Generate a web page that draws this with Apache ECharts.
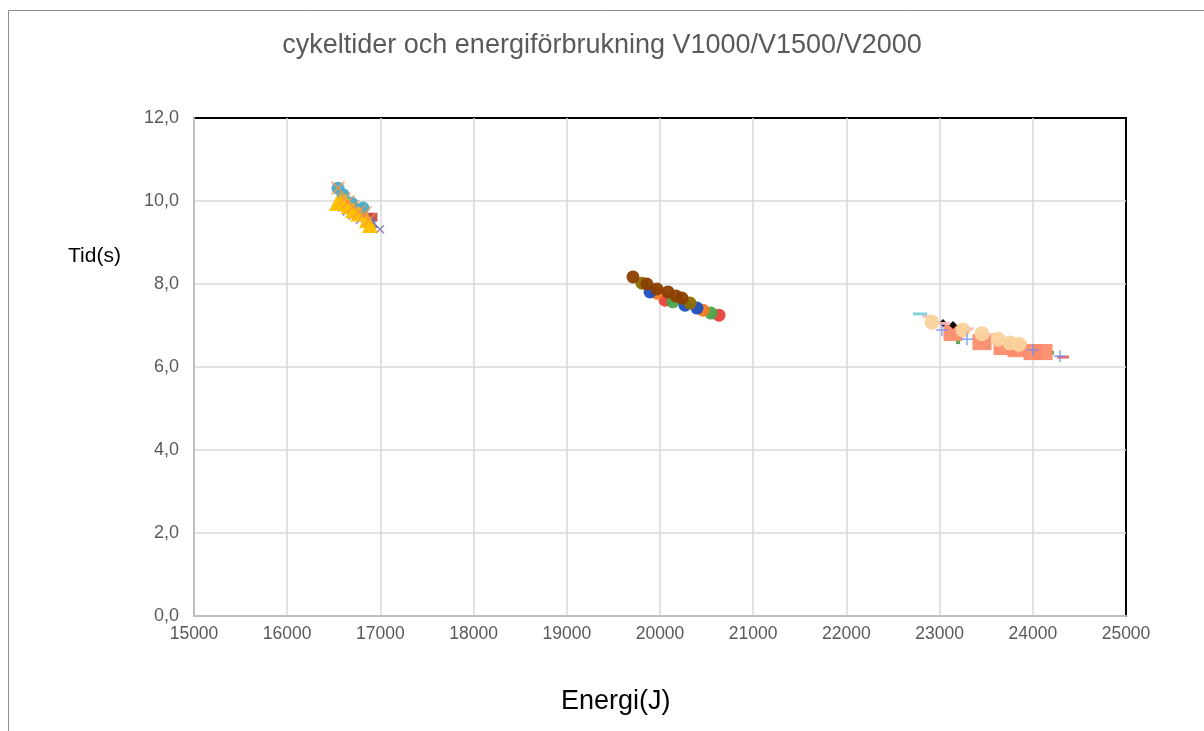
<!DOCTYPE html>
<html><head><meta charset="utf-8">
<script src="https://cdn.jsdelivr.net/npm/echarts@6/dist/echarts.min.js"></script>
<style>html,body{margin:0;padding:0;background:#fff}#c{width:1204px;height:731px}</style>
</head><body><div id="c"></div>
<script>
const title = 'cykeltider och energiförbrukning V1000/V1500/V2000';
const xName = 'Energi(J)';
const yName = 'Tid(s)';
const xTicks = [15000, 25000, 1000];
const yTicks = [0, 12, 2];

// V1000 cluster
const v1000Teal   = [[16545,10.31],[16600,10.15],[16690,9.95],[16813,9.83],[16760,9.78]];
const v1000Orange = [[16545,10.31],[16652,9.98],[16706,9.86],[16770,9.74],[16835,9.71],[16610,10.05],[16880,9.55]];
const v1000Yellow = [[16534,9.95],[16580,10.02],[16620,9.98],[16706,9.78],[16760,9.70],[16856,9.54],[16888,9.42],[16660,9.88]];
const v1000Red    = [[16588,9.86],[16920,9.61],[16870,9.60]];
const v1000Blue   = [[16920,9.47],[16900,9.52]];
const v1000Purple = [[16996,9.32],[16880,9.40],[16780,9.55],[16700,9.65],[16640,9.75]];
const v1000Green  = [[16720,9.92],[16800,9.80],[16850,9.40]];
// V1500 cluster
const v1500Brown  = [[19710,8.17],[19860,8.00],[19968,7.88],[20086,7.81],[20172,7.71],[20236,7.66]];
const v1500Olive  = [[19807,8.02],[20322,7.54]];
const v1500Blue   = [[19893,7.81],[20268,7.49],[20397,7.42]];
const v1500Orange = [[19968,7.78],[20461,7.37]];
const v1500Green  = [[20139,7.57],[20547,7.30]];
const v1500Red    = [[20054,7.61],[20633,7.25]];
// V2000 cluster
const v2000Salmon = [[23144,6.82],[23455,6.60],[23680,6.48],[23830,6.43],[24002,6.36],[24110,6.36]];
const v2000Peach  = [[22918,7.08],[23251,6.89],[23455,6.80],[23627,6.67],[23755,6.58],[23852,6.55]];
const v2000Black  = [[23036,7.06],[23144,7.01],[23294,6.89]];
const v2000Blue   = [[23025,6.89],[23294,6.67],[24002,6.41],[24292,6.26]];
const v2000Green  = [[23198,6.60],[23520,6.46],[23777,6.34],[24206,6.34]];
const v2000Cyan   = [[22790,7.28]];
const v2000Red    = [[24324,6.24]];
const v2000Pink   = [[22880,7.22],[23050,7.05],[23300,6.92],[23550,6.78],[23780,6.66]];

const X = 'path://M0,0L10,10M10,0L0,10';
const P = 'path://M5,0L5,10M0,5L10,5';
function sc(data, color, symbol, size, stroke, z){
  const s = {type:'scatter', data, symbol, symbolSize:size, z: z||2,
    itemStyle:{color, opacity:0.95}};
  if (stroke) s.itemStyle = {color:'none', borderColor:color, borderWidth:1.5};
  return s;
}
const series = [
  sc(v1000Purple,'#8064A2',X,8,true),
  sc(v1000Green,'#9BBB59',P,7,true),
  sc(v1000Teal,'#4BACC6','circle',13),
  sc(v1000Red,'#C0504D','rect',9),
  sc(v1000Blue,'#4F81BD','triangle',10),
  sc(v1000Yellow,'#FFC000','triangle',16),
  sc(v1000Orange,'#F79646',X,13,true,3),
  sc(v1500Red,'#E8403A','circle',13),
  sc(v1500Green,'#4CA84C','circle',13),
  sc(v1500Orange,'#F47B20','circle',13),
  sc(v1500Blue,'#1F4FBF','circle',13),
  sc(v1500Olive,'#8C6D00','circle',13),
  sc(v1500Brown,'#8B3F00','circle',13),
  sc(v2000Green,'#4CA84C','rect',4),
  sc(v2000Salmon,'#FA8C6C','rect',[19,16]),
  sc(v2000Black,'#000000','diamond',8),
  sc(v2000Pink,'#FFB8B8','rect',[12,3]),
  sc(v2000Peach,'#FAD39C','circle',15),
  sc(v2000Blue,'#6C8EEF',P,12,true,3),
  sc(v2000Cyan,'#7FD0D8','rect',[14,3]),
  sc(v2000Red,'#F06060','rect',[12,3])
];

const chart = echarts.init(document.getElementById('c'));
chart.setOption({
  animation:false,
  backgroundColor:'#fff',
  title:{text:title, left:'center', top:27, textStyle:{fontFamily:'Liberation Sans', fontSize:27, fontWeight:'normal', color:'#595959'}},
  graphic:[
    {type:'rect', shape:{x:8.5,y:10.5,width:1300,height:800}, style:{fill:'none', stroke:'#8c8c8c', lineWidth:1}, z:-1},
    {type:'text', left:68, top:246, style:{text:yName, font:'21px "Liberation Sans"', fill:'#000'}},
    {type:'text', left:561, top:688, style:{text:xName, font:'27px "Liberation Sans"', fill:'#000'}}
  ],
  grid:{left:194, right:78, top:118, bottom:115, show:true, borderColor:'#000', borderWidth:2, backgroundColor:'transparent'},
  xAxis:{type:'value', min:xTicks[0], max:xTicks[1], interval:xTicks[2],
    axisLine:{show:true, onZero:false, lineStyle:{color:'#BFBFBF', width:2}},
    axisTick:{show:false},
    splitLine:{show:true, showMaxLine:false, lineStyle:{color:'#D9D9D9', width:1.5}},
    axisLabel:{fontFamily:'Liberation Sans', fontSize:17.5, color:'#595959', margin:9, formatter:v=>String(v)}},
  yAxis:{type:'value', min:yTicks[0], max:yTicks[1], interval:yTicks[2],
    axisLine:{show:true, onZero:false, lineStyle:{color:'#BFBFBF', width:2}},
    axisTick:{show:false},
    splitLine:{show:true, showMaxLine:false, lineStyle:{color:'#D9D9D9', width:1.5}},
    axisLabel:{fontFamily:'Liberation Sans', fontSize:18, color:'#595959', margin:15,
      formatter:v=>v.toFixed(1).replace('.', ',')}},
  series
});
</script></body></html>
